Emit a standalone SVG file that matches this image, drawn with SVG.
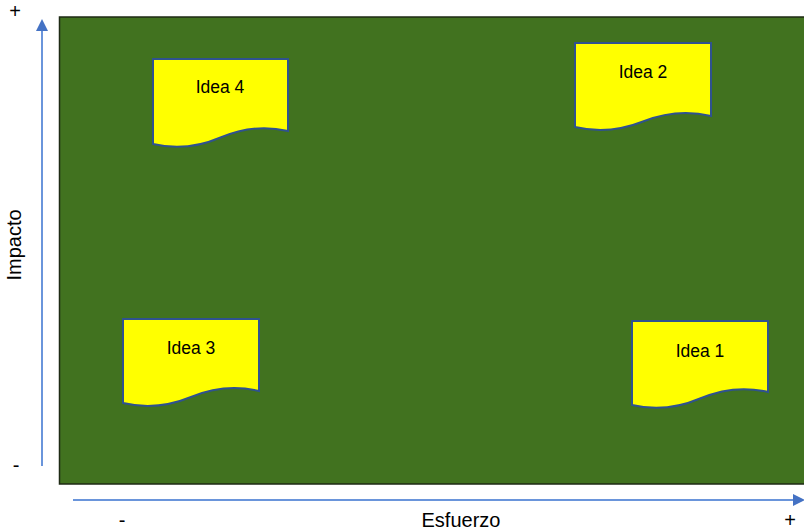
<svg xmlns="http://www.w3.org/2000/svg" width="804" height="531" viewBox="0 0 804 531">
<defs>
<style>
.doc{fill:#FFFF00;stroke:#2F528F;stroke-width:2}
.lbl{font-family:"Liberation Sans",Arial,sans-serif;font-size:17.5px;fill:#000;text-anchor:middle}
.ax{stroke:#6A95DB;stroke-width:2;fill:none}
.axt{font-family:"Liberation Sans",Arial,sans-serif;font-size:20px;fill:#000;text-anchor:middle}
</style>
<marker id="ah" markerWidth="12" markerHeight="12" refX="9" refY="6" orient="auto" markerUnits="userSpaceOnUse" viewBox="0 0 12 12">
<path d="M0,0 L12,6 L0,12 z" fill="#4472C4"/>
</marker>
</defs>
<rect width="804" height="531" fill="#FFFFFF"/>
<rect id="board" x="59.5" y="17" width="750" height="467" fill="#41721F" stroke="#1E2A14" stroke-width="1.5"/>
<g id="connectors">
<line class="ax" x1="42" y1="466" x2="42" y2="22" marker-end="url(#ah)"/>
<line class="ax" x1="73" y1="500" x2="802" y2="500" marker-end="url(#ah)"/>
</g>
<g id="axis-labels">
<text class="axt" x="15" y="18">+</text>
<text class="axt" x="16" y="472">-</text>
<text class="axt" x="122" y="527">-</text>
<text class="axt" x="790" y="527">+</text>
<text class="axt" x="461" y="527">Esfuerzo</text>
<text class="axt" transform="translate(21,245) rotate(-90)">Impacto</text>
</g>
<g id="idea4">
<path class="doc" d="M153,59 H288 V131 Q254.25,123 220.5,137.5 T153,144 Z"/>
<text class="lbl" x="220" y="93">Idea 4</text>
</g>
<g id="idea2">
<path class="doc" d="M575,43 H711 V116 Q677,108 643,121.5 T575,127 Z"/>
<text class="lbl" x="643" y="78">Idea 2</text>
</g>
<g id="idea3">
<path class="doc" d="M123,319 H259 V391 Q225,383 191,397 T123,403 Z"/>
<text class="lbl" x="191" y="354">Idea 3</text>
</g>
<g id="idea1">
<path class="doc" d="M632,321 H768 V392 Q734,384 700,398.5 T632,405 Z"/>
<text class="lbl" x="700" y="357">Idea 1</text>
</g>
</svg>
